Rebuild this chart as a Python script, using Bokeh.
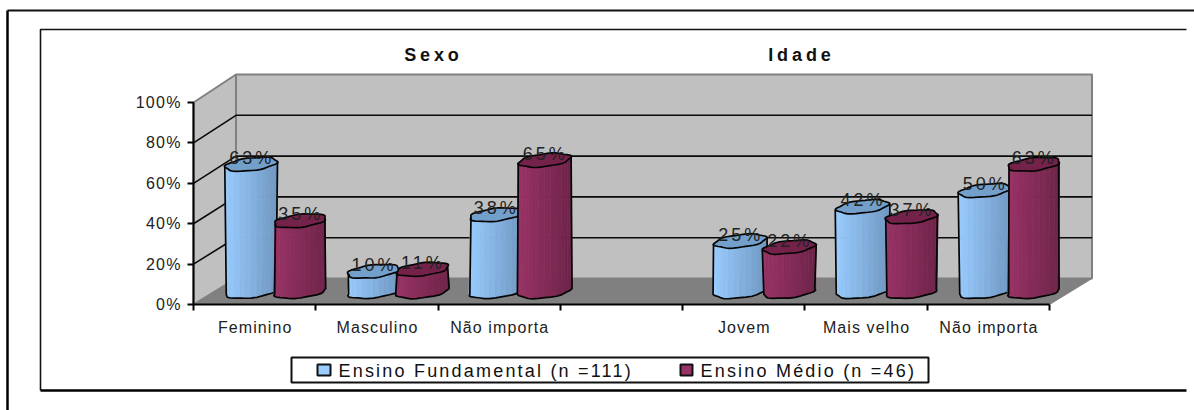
import math
from bokeh.embed import file_html
from bokeh.resources import INLINE
from bokeh.plotting import figure
from bokeh.core.properties import value
from bokeh.models import LinearAxis, FixedTicker, PrintfTickFormatter

categories = ["Feminino", "Masculino", "Não importa", "", "Jovem", "Mais velho", "Não importa"]
fundamental = [63, 10, 38, None, 25, 42, 50]
medio = [35, 11, 65, None, 22, 37, 63]
series_names = ["Ensino Fundamental (n =111)", "Ensino Médio (n =46)"]
group_titles = ["Sexo", "Idade"]
y_ticks = [0, 20, 40, 60, 80, 100]

W, H = 1194, 410
X0, Y0 = 193.0, 304.0          # axes origin in page pixels
UX = (1049 - 193) / 7.0        # pixels per category
UY = 2.02                      # pixels per percent
FONT = "Liberation Sans"

def X(px): return (px - X0) / UX
def Y(py): return (Y0 - py) / UY
def DX(px): return px / UX
def DY(px): return px / UY

p = figure(width=W, height=H, output_backend="svg", toolbar_location=None,
           x_range=(X(0), X(W)), y_range=(Y(H), Y(0)),
           x_axis_location=None, y_axis_location=None,
           min_border=0, min_border_left=0, min_border_right=0,
           min_border_top=0, min_border_bottom=0)
p.styles = {"position": "absolute", "left": "0px", "top": "0px"}
p.grid.visible = False
p.outline_line_color = None
p.background_fill_color = "white"
p.border_fill_color = "white"

# page frames
p.line([X(7), X(7)], [Y(10), Y(H + 5)], line_color="black", line_width=2.5)
p.line([X(7), X(W + 5)], [Y(10), Y(10)], line_color="#111111", line_width=2)
p.line([X(40), X(40), X(1186)], [Y(390), Y(29), Y(29)], line_color="#111111", line_width=1.6)
p.line([X(40), X(1186)], [Y(390), Y(390)], line_color="black", line_width=2.6)

# 3-D walls
DEPTH_X = 42.5
BACK0 = 278.0
BACK_UY = 2.04

def back_y(v): return DY(Y0 - BACK0) + v * BACK_UY / UY

x_front_l, x_front_r = 0, 7
x_back_l, x_back_r = DX(DEPTH_X), 7 + DX(DEPTH_X)
p.patch([x_back_l, x_back_r, x_back_r, x_back_l], [back_y(0), back_y(0), back_y(100), back_y(100)],
        fill_color="#C0C0C0", line_color="#808080", line_width=2)
p.patch([x_front_l, x_back_l, x_back_l, x_front_l], [0, back_y(0), back_y(100), 100],
        fill_color="#C0C0C0", line_color="#808080", line_width=2)
p.patch([x_front_l, x_front_r, x_back_r, x_back_l], [0, 0, back_y(0), back_y(0)],
        fill_color="#808080", line_color="#808080", line_width=1)
for v in y_ticks[1:-1]:
    p.line([x_front_l, x_back_l, x_back_r], [v, back_y(v), back_y(v)], line_color="#0a0a0a", line_width=1.6)

# cylinders
R_A, R_B, DEPTH_H = 23.8, 10.5, 7.0
T0 = math.atan2(R_B, R_A)
MID_DX, MID_DY = 21.0, 13.0
BAR_SHIFT = 24.5
N_STRIPS = 14

def mix(c1, c2, f):
    return "#%02x%02x%02x" % tuple(int(round(a + (b - a) * f)) for a, b in zip(c1, c2))

def ring(t, phase):
    w = 1 + 0.05 * math.sin(6 * t + phase)
    return (w * (R_A * math.cos(t) + R_B * math.sin(t)), -w * DEPTH_H * math.sin(t))

def draw_bar(slot, val, side, light, dark, top_fill, phase):
    cx = slot + 0.5 + DX(MID_DX + side * BAR_SHIFT)
    y_t = val + DY(MID_DY)
    y_b = DY(MID_DY)
    steps = [T0 + math.pi + math.pi * i / N_STRIPS for i in range(N_STRIPS + 1)]
    tops = [ring(t, phase) for t in steps]
    bases = [ring(t, phase + 1.3) for t in steps]
    half = math.hypot(R_A, R_B)
    xs, ys, cols = [], [], []
    for i in range(N_STRIPS):
        xs.append([cx + DX(tops[i][0]), cx + DX(tops[i + 1][0]), cx + DX(bases[i + 1][0]), cx + DX(bases[i][0])])
        ys.append([y_t - DY(tops[i][1]), y_t - DY(tops[i + 1][1]), y_b - DY(bases[i + 1][1]), y_b - DY(bases[i][1])])
        f = (0.5 * (tops[i][0] + tops[i + 1][0]) + half) / (2 * half)
        cols.append(mix(light, dark, min(1.0, max(0.0, f))))
    p.patches(xs, ys, fill_color=cols, line_color=cols, line_width=0.6)
    cap = [ring(2 * math.pi * i / 40, phase) for i in range(40)]
    p.patch([cx + DX(c[0]) for c in cap], [y_t - DY(c[1]) for c in cap],
            fill_color=top_fill, line_color="#050505", line_width=1.7)
    ox = [tops[0][0]] + [b[0] for b in bases] + [tops[-1][0]]
    oy = [y_t - DY(tops[0][1])] + [y_b - DY(b[1]) for b in bases] + [y_t - DY(tops[-1][1])]
    p.line([cx + DX(v) for v in ox], oy, line_color="#050505", line_width=1.7)

BLUE = ((0x99, 0xCC, 0xFF), (0x70, 0x98, 0xC2), "#739FCB")
WINE = ((0x99, 0x33, 0x66), (0x6E, 0x24, 0x49), "#75224B")

label_x, label_y, label_t = [], [], []
for i in range(len(categories)):
    if fundamental[i] is None:
        continue
    draw_bar(i, fundamental[i], -1, BLUE[0], BLUE[1], BLUE[2], 0.4 + i)
    draw_bar(i, medio[i], 1, WINE[0], WINE[1], WINE[2], 2.1 + i)
    for side, v in ((-1, fundamental[i]), (1, medio[i])):
        label_x.append(i + 0.5 + DX(MID_DX + side * BAR_SHIFT - 1))
        label_y.append(v + DY(MID_DY + 6.5))
        label_t.append("%d%%" % v)

p.text(label_x, label_y, text=label_t, text_font=value(FONT), text_font_size="18px",
       text_color="#222222", text_align="center", text_baseline="middle")

# group titles
p.text([X(431), X(799)], [Y(54), Y(54)], text=group_titles, text_font=value(FONT), text_font_size="18px",
       text_font_style="bold", text_color="#111111", text_align="center", text_baseline="middle")

# axes
yaxis = LinearAxis(fixed_location=0, bounds=(0, 100), ticker=FixedTicker(ticks=y_ticks),
                   formatter=PrintfTickFormatter(format="%d%%"))
yaxis.axis_line_color = "black"
yaxis.axis_line_width = 2
yaxis.major_tick_line_color = "black"
yaxis.major_tick_line_width = 2
yaxis.major_tick_in = 0
yaxis.major_tick_out = 6
yaxis.minor_tick_line_color = None
yaxis.major_label_text_font = FONT
yaxis.major_label_text_font_size = "16px"
yaxis.major_label_text_color = "#222222"
yaxis.major_label_standoff = 7
p.add_layout(yaxis, "left")

mids = [i + 0.5 for i in range(len(categories))]
xaxis = LinearAxis(fixed_location=0, bounds=(0, 7),
                   ticker=FixedTicker(ticks=mids, minor_ticks=list(range(len(categories) + 1))))
xaxis.major_label_overrides = {m: c for m, c in zip(mids, categories)}
xaxis.axis_line_color = "black"
xaxis.axis_line_width = 2
xaxis.major_tick_line_color = None
xaxis.major_tick_in = 0
xaxis.major_tick_out = 0
xaxis.minor_tick_line_color = "black"
xaxis.minor_tick_line_width = 2
xaxis.minor_tick_in = 0
xaxis.minor_tick_out = 6
xaxis.major_label_text_font = FONT
xaxis.major_label_text_font_size = "16px"
xaxis.major_label_text_color = "#222222"
xaxis.major_label_standoff = 8
p.add_layout(xaxis, "below")

# legend
p.quad(left=[X(291)], right=[X(928)], top=[Y(357)], bottom=[Y(382)], fill_color="white",
       line_color="#111111", line_width=2)
p.quad(left=[X(317), X(680)], right=[X(330), X(692)], top=[Y(364), Y(364)], bottom=[Y(375), Y(375)],
       fill_color=["#99CCFF", "#993366"], line_color="#111111", line_width=2)
p.text([X(338), X(700)], [Y(370), Y(370)], text=series_names, text_font=value(FONT), text_font_size="18px",
       text_color="#111111", text_align="left", text_baseline="middle")

SPACING_JS = """
<script>
(function () {
  var yTicks = {"0%":1,"20%":1,"40%":1,"60%":1,"80%":1,"100%":1};
  var titles = {"Sexo":1,"Idade":1};
  function rule(s) {
    if (yTicks[s]) return [1.3, "right"];
    if (titles[s]) return [3.9, "center"];
    if (s.indexOf("Ensino") === 0) return [2.2, "left"];
    if (/%$/.test(s)) return [3, "center"];
    return [1.1, "center"];
  }
  function walk(root, out) {
    root.querySelectorAll("*").forEach(function (el) {
      if (el.tagName && el.tagName.toLowerCase() === "text") out.push(el);
      if (el.shadowRoot) walk(el.shadowRoot, out);
    });
    return out;
  }
  var n = 0;
  var h = setInterval(function () {
    walk(document, []).forEach(function (t) {
      if (t.dataset.sp) return;
      t.dataset.sp = "1";
      var r = rule(t.textContent);
      t.style.letterSpacing = r[0] + "px";
      var extra = (t.textContent.length - 1) * r[0];
      var a = t.getAttribute("text-anchor") || "start";
      var x = parseFloat(t.getAttribute("x") || "0");
      if (a === "start" && r[1] === "center") t.setAttribute("x", x - extra / 2);
      if (a === "start" && r[1] === "right") t.setAttribute("x", x - extra);
    });
    if (++n > 40) clearInterval(h);
  }, 100);
})();
</script>
"""

html = file_html(p, INLINE)
html = html.replace("</body>", SPACING_JS + "</body>")
open("out.html", "w").write(html)
